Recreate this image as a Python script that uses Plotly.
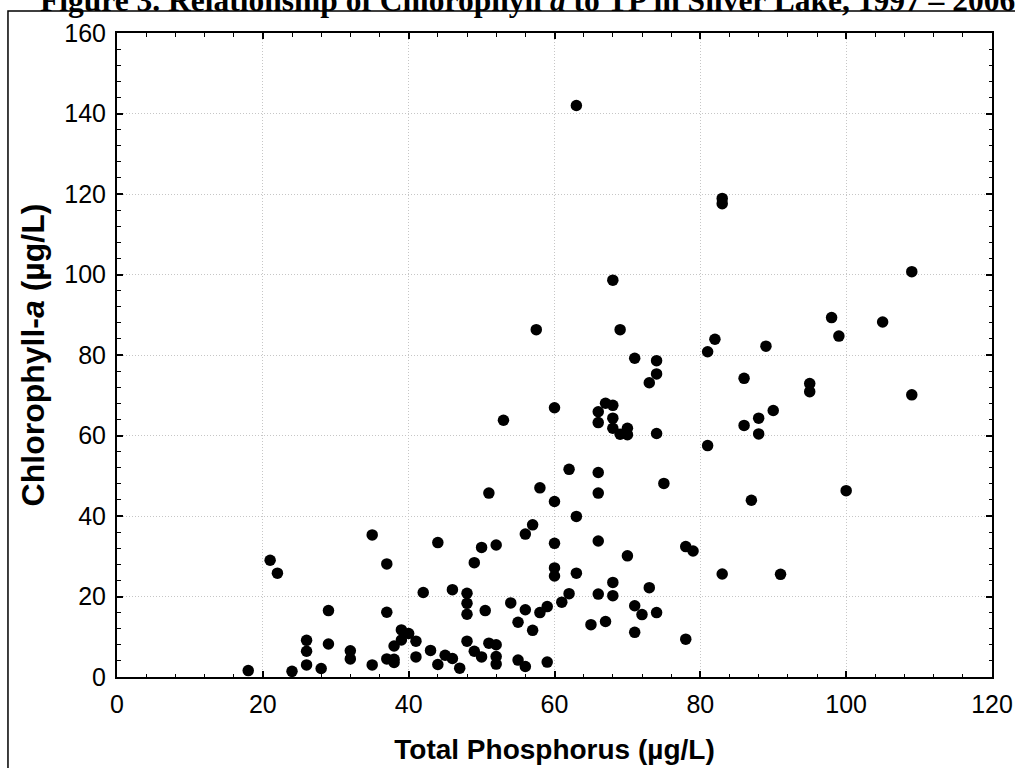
import plotly.graph_objects as go

# Silver Lake: total phosphorus vs chlorophyll-a
tp = [18, 21, 22, 24, 26, 26, 26, 28, 29, 29,
      32, 32, 35, 35, 37, 37, 37, 38, 38, 38,
      39, 39, 40, 41, 41, 42, 43, 44, 44, 45,
      46, 46, 47, 48, 48, 48, 48, 49, 49, 50,
      50, 50.5, 51, 51, 52, 52, 52, 52, 53, 54,
      55, 55, 56, 56, 56, 57, 57, 57.5, 58, 58,
      59, 59, 60, 60, 60, 60, 60, 61, 62, 62,
      63, 63, 63, 65, 66, 66, 66, 66, 66, 66,
      67, 67, 68, 68, 68, 68, 68, 68, 69, 69,
      70, 70, 70, 71, 71, 71, 72, 73, 73, 74,
      74, 74, 74, 75, 78, 78, 79, 81, 81, 82,
      83, 83, 83, 86, 86, 87, 88, 88, 89, 90,
      91, 95, 95, 98, 99, 100, 105, 109, 109]
chl = [1.6, 29.0, 25.8, 1.4, 9.1, 6.4, 3.0, 2.1, 16.5, 8.2,
       6.5, 4.5, 35.3, 3.0, 28.1, 16.1, 4.5, 7.7, 4.4, 3.6,
       11.7, 9.2, 10.8, 8.9, 5.0, 21.0, 6.6, 33.4, 3.1, 5.4,
       21.7, 4.6, 2.2, 20.8, 18.3, 15.6, 8.9, 28.4, 6.4, 32.2,
       5.0, 16.5, 45.7, 8.4, 32.8, 8.0, 5.1, 3.2, 63.8, 18.4,
       13.6, 4.2, 35.5, 16.7, 2.6, 37.8, 11.6, 86.3, 47.0, 16.0,
       17.5, 3.7, 66.9, 43.6, 33.2, 27.1, 25.1, 18.6, 51.6, 20.7,
       142.0, 39.9, 25.8, 13.0, 65.9, 63.2, 50.8, 45.7, 33.8, 20.6,
       68.0, 13.8, 98.6, 67.5, 64.3, 61.8, 23.5, 20.2, 86.3, 60.3,
       61.8, 60.2, 30.1, 79.2, 17.7, 11.1, 15.5, 73.1, 22.2, 78.6,
       75.3, 60.5, 16.0, 48.1, 32.4, 9.4, 31.3, 80.8, 57.5, 83.9,
       118.9, 117.6, 25.6, 74.2, 62.5, 43.9, 64.3, 60.4, 82.2, 66.2,
       25.5, 72.9, 70.9, 89.3, 84.7, 46.3, 88.2, 100.7, 70.1]

x_ticks = [0, 20, 40, 60, 80, 100, 120]
y_ticks = [0, 20, 40, 60, 80, 100, 120, 140, 160]

title_text = ("<b>Figure 3. Relationship of Chlorophyll <i>a</i> to TP "
              "in Silver Lake, 1997 \u2013 2006</b>")

sans = "Liberation Sans, Arial, sans-serif"

fig = go.Figure()
fig.add_trace(go.Scatter(
    x=tp, y=chl, mode="markers",
    marker=dict(color="black", size=11.5, line=dict(width=0)),
    hoverinfo="x+y", showlegend=False))
# empty trace so the mirrored top/right axes get drawn
fig.add_trace(go.Scatter(x=[None], y=[None], xaxis="x2", yaxis="y2",
                         showlegend=False, hoverinfo="skip"))

tick_style = dict(
    ticks="inside", ticklen=6, tickwidth=1.5, tickcolor="black",
    minor=dict(ticks="inside", ticklen=3.5, tickwidth=1.2, tickcolor="black",
               showgrid=False, dtick=4),
    automargin=False,
)

axis_style = dict(
    showline=True, linecolor="black", linewidth=2, mirror=True,
    showgrid=True, gridcolor="#c6c6c6", griddash="1px,2px", gridwidth=1,
    zeroline=False,
    tickfont=dict(family=sans, size=25, color="black"),
    **tick_style,
)

fig.update_layout(
    xaxis=dict(axis_style, range=[0, 120], tickvals=x_ticks,
               ticklabelstandoff=4,
               title=dict(text="<b>Total Phosphorus (\u00b5g/L)</b>", standoff=22,
                          font=dict(family=sans, size=28, color="black"))),
    yaxis=dict(axis_style, range=[0, 160], tickvals=y_ticks,
               ticklabelstandoff=4,
               title=dict(text="<b>Chlorophyll-<i>a</i> (\u00b5g/L)</b>", standoff=10,
                          font=dict(family=sans, size=32, color="black"))),
    xaxis2=dict(tick_style, overlaying="x", side="top", range=[0, 120],
                tickvals=x_ticks, showticklabels=False, showgrid=False,
                zeroline=False, showline=False),
    yaxis2=dict(tick_style, overlaying="y", side="right", range=[0, 160],
                tickvals=y_ticks, showticklabels=False, showgrid=False,
                zeroline=False, showline=False),
)

# outer frame of the page figure (only its top and left edges show)
fig.add_shape(type="rect", xref="paper", yref="paper",
              x0=-0.1246, x1=1.5, y0=-0.5, y1=1.0342,
              line=dict(color="black", width=1.5), layer="below")

fig.add_annotation(text=title_text, xref="paper", yref="paper",
                   x=1.0225, y=1.026, xanchor="right", yanchor="bottom",
                   xshift=5, yshift=-4,
                   showarrow=False,
                   font=dict(family="Liberation Serif, Times New Roman, serif",
                             size=31.5, color="black"))

fig.update_layout(
    width=1015, height=768,
    margin=dict(l=117, r=23, t=33, b=91, autoexpand=False),
    paper_bgcolor="white", plot_bgcolor="white",
)

fig.write_html("out.html", config={"displayModeBar": False},
               post_script="document.body.style.margin = '0';")
